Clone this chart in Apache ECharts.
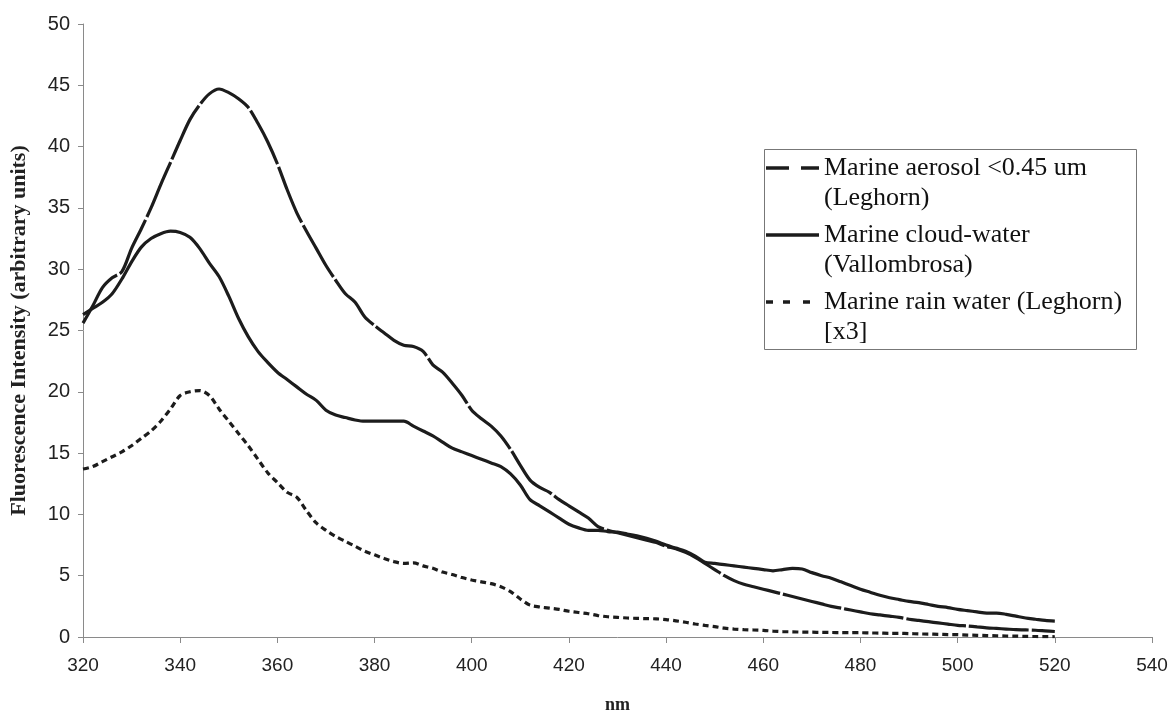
<!DOCTYPE html>
<html>
<head>
<meta charset="utf-8">
<script src="https://cdn.jsdelivr.net/npm/echarts@6/dist/echarts.min.js"></script>
<style>html,body{margin:0;padding:0;background:#fff;}#c{width:1171px;height:713px;}</style>
</head>
<body>
<div id="c"></div>
<script>
// wavelengths (nm), 2 nm step from 320 to 520
var wavelengths = [];
for (var w = 320; w <= 520; w += 2) wavelengths.push(w);

var aerosol = [
25.6,27.0,28.5,29.3,29.8,31.7,33.3,35.0,36.9,38.7,
40.5,42.2,43.4,44.3,44.7,44.4,43.9,43.2,41.9,40.4,
38.6,36.5,34.6,33.1,31.7,30.3,29.1,28.0,27.3,26.1,
25.4,24.8,24.2,23.8,23.7,23.3,22.2,21.6,20.7,19.7,
18.5,17.8,17.2,16.4,15.3,14.0,12.8,12.2,11.8,11.2,
10.7,10.2,9.7,9.0,8.7,8.5,8.3,8.1,7.9,7.7,
7.4,7.2,6.9,6.5,6.0,5.5,5.0,4.6,4.3,4.1,
3.9,3.7,3.5,3.3,3.1,2.9,2.7,2.5,2.35,2.2,
2.05,1.9,1.8,1.7,1.6,1.45,1.35,1.25,1.15,1.05,
0.95,0.9,0.82,0.75,0.7,0.65,0.6,0.58,0.55,0.5,
0.45];

var cloud = [
26.3,26.8,27.3,28.0,29.2,30.6,31.8,32.5,32.9,33.1,
33.0,32.6,31.7,30.5,29.4,27.8,26.0,24.5,23.3,22.4,
21.6,21.0,20.4,19.8,19.3,18.5,18.1,17.9,17.7,17.6,
17.6,17.6,17.6,17.6,17.2,16.8,16.4,15.9,15.4,15.1,
14.8,14.5,14.2,13.9,13.3,12.4,11.2,10.7,10.2,9.7,
9.2,8.9,8.7,8.7,8.6,8.55,8.4,8.25,8.05,7.8,
7.5,7.25,7.0,6.6,6.1,6.0,5.9,5.8,5.7,5.6,
5.5,5.4,5.5,5.6,5.55,5.25,5.0,4.8,4.5,4.2,
3.9,3.65,3.4,3.2,3.05,2.9,2.8,2.65,2.5,2.4,
2.25,2.15,2.05,1.95,1.95,1.85,1.7,1.55,1.45,1.35,
1.3];

var rain = [
13.7,13.9,14.3,14.7,15.1,15.6,16.2,16.8,17.6,18.6,
19.7,20.0,20.1,19.7,18.6,17.6,16.6,15.6,14.5,13.4,
12.6,11.8,11.4,10.3,9.3,8.7,8.2,7.8,7.4,7.0,
6.7,6.4,6.15,6.0,6.05,5.8,5.6,5.3,5.1,4.85,
4.65,4.5,4.35,4.1,3.7,3.1,2.6,2.45,2.35,2.25,
2.1,2.0,1.9,1.75,1.65,1.6,1.55,1.52,1.5,1.48,
1.42,1.32,1.2,1.06,0.95,0.85,0.72,0.65,0.6,0.57,
0.54,0.48,0.44,0.42,0.4,0.39,0.38,0.37,0.36,0.35,
0.35,0.33,0.32,0.3,0.3,0.28,0.25,0.24,0.22,0.2,
0.19,0.16,0.14,0.12,0.1,0.08,0.07,0.05,0.04,0.03,
0.02];

var seriesNames = [
  'Marine aerosol <0.45 um\n(Leghorn)',
  'Marine cloud-water\n(Vallombrosa)',
  'Marine rain water (Leghorn)\n[x3]'
];
var xTicks = {min: 320, max: 540, interval: 20};
var yTicks = {min: 0, max: 50, interval: 5};

function pairs(vals) {
  return wavelengths.map(function (x, i) { return [x, vals[i]]; });
}

var ink = '#1c1c1c';
// legend icons: line glyph aligned with the first text line (corner specks fix the box size)
var box = 'M0,0h0.01v0.01h-0.01z M53,60h-0.01v-0.01h0.01z ';
var iconDash = 'path://' + box + 'M0,13.2h23v3.6h-23z M35,13.2h18v3.6h-18z';
var iconSolid = 'path://' + box + 'M0,13.2h53v3.6h-53z';
var iconDot = 'path://' + box + 'M0,13.2h7v3.6h-7z M17,13.2h7v3.6h-7z M37,13.2h7v3.6h-7z';

var chart = echarts.init(document.getElementById('c'), null, {renderer: 'canvas'});
chart.setOption({
  backgroundColor: '#fff',
  animation: false,
  grid: {left: 83, right: 19, top: 24, bottom: 76, containLabel: false, outerBoundsMode: 'none'},
  xAxis: {
    type: 'value', min: xTicks.min, max: xTicks.max, interval: xTicks.interval,
    name: 'nm', nameLocation: 'middle', nameGap: 59,
    nameTextStyle: {fontFamily: 'Liberation Serif', fontWeight: 'bold', fontSize: 18, color: '#222'},
    axisLine: {lineStyle: {color: '#8a8a8a', width: 1}},
    axisTick: {show: true, length: 6, lineStyle: {color: '#8a8a8a'}},
    axisLabel: {fontFamily: 'Liberation Sans', fontSize: 19, color: '#222', margin: 19},
    splitLine: {show: false}
  },
  yAxis: {
    type: 'value', min: yTicks.min, max: yTicks.max, interval: yTicks.interval,
    name: 'Fluorescence Intensity (arbitrary units)', nameLocation: 'middle', nameGap: 53,
    nameTextStyle: {fontFamily: 'Liberation Serif', fontWeight: 'bold', fontSize: 22, color: '#222'},
    axisLine: {show: true, lineStyle: {color: '#8a8a8a', width: 1}},
    axisTick: {show: true, length: 5, lineStyle: {color: '#8a8a8a'}},
    axisLabel: {fontFamily: 'Liberation Sans', fontSize: 20, color: '#222', margin: 13},
    splitLine: {show: false}
  },
  legend: {
    show: true,
    orient: 'vertical', left: 766, top: 153, padding: 0,
    itemWidth: 53, itemHeight: 60, itemGap: 7,
    selectedMode: false,
    textStyle: {fontFamily: 'Liberation Serif', fontSize: 26, color: '#111', lineHeight: 30},
    data: [
      {name: seriesNames[0], icon: iconDash, itemStyle: {color: ink}},
      {name: seriesNames[1], icon: iconSolid, itemStyle: {color: ink}},
      {name: seriesNames[2], icon: iconDot, itemStyle: {color: ink}}
    ]
  },
  graphic: [{
    type: 'rect', left: 762, top: 147, shape: {width: 372, height: 200},
    style: {fill: 'none', stroke: '#777', lineWidth: 1}, z: 100
  }],
  series: [
    {name: seriesNames[0], type: 'line', data: pairs(aerosol), symbol: 'none', smooth: 0.3,
     lineStyle: {color: ink, width: 3.2, type: [60, 3]}, itemStyle: {color: ink}},
    {name: seriesNames[1], type: 'line', data: pairs(cloud), symbol: 'none', smooth: 0.3,
     lineStyle: {color: ink, width: 3.2, type: 'solid'}, itemStyle: {color: ink}},
    {name: seriesNames[2], type: 'line', data: pairs(rain), symbol: 'none', smooth: 0.3,
     lineStyle: {color: ink, width: 3.2, type: [6, 4]}, itemStyle: {color: ink}}
  ]
});
</script>
</body>
</html>
